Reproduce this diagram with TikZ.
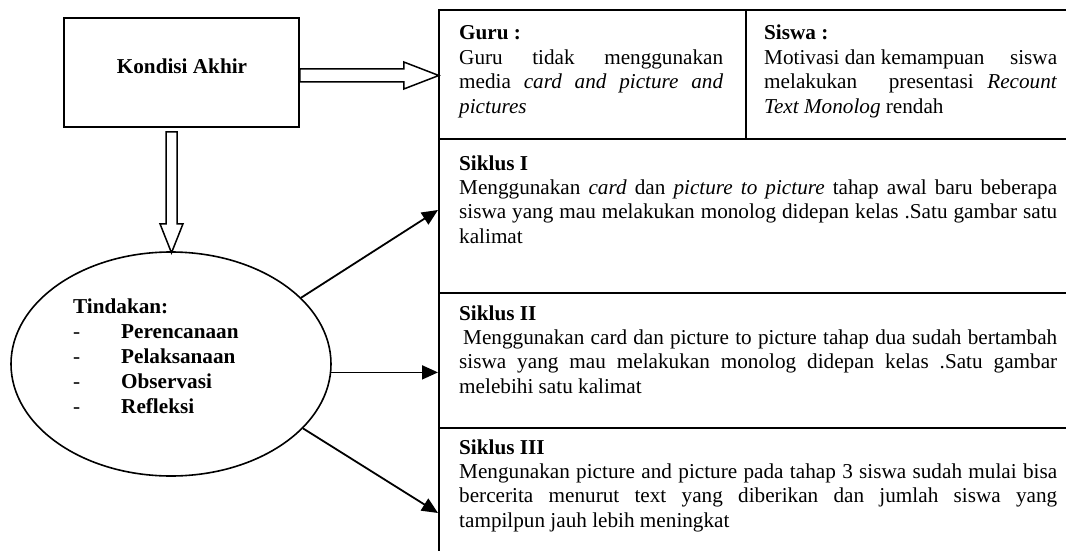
\documentclass[tikz,border=0pt]{standalone}
\usepackage{fontspec}
\setmainfont{Liberation Serif}
\usetikzlibrary{shapes.geometric,arrows.meta,calc}
\newcommand{\bodyfnt}{\fontsize{21.2pt}{24.4pt}\selectfont}
\newcommand{\leftfnt}{\fontsize{21.2pt}{25pt}\selectfont\bfseries}
\newcommand{\jline}[2]{\makebox[#1][s]{#2}}
\begin{document}
\begin{tikzpicture}[x=1pt,y=-1pt,
  cell/.style={draw, line width=1.8pt, rectangle, anchor=north west, inner sep=0pt},
  txt/.style={anchor=base west, inner sep=0pt},
  conn/.style={line width=1.8pt, -{Triangle[length=16pt,width=14pt]}},
  block/.style={draw, line width=1.5pt, fill=white, line join=miter},
  kbox/.style={draw, line width=1.6pt, rectangle, minimum width=235pt, minimum height=109pt, inner sep=0pt},
  ellnode/.style={draw, line width=1.6pt, ellipse, minimum width=320pt, minimum height=224pt, inner sep=0pt}]
\useasboundingbox (0,0) rectangle (1066,551);

% table cells
\node[cell, minimum width=307pt, minimum height=129pt] (guru) at (438,9) {};
\node[cell, minimum width=340pt, minimum height=129pt] (siswa) at (745,9) {};
\node[cell, minimum width=650pt, minimum height=154pt] (s1) at (438,138) {};
\node[cell, minimum width=650pt, minimum height=135pt] (s2) at (438,292) {};
\node[cell, minimum width=650pt, minimum height=150pt] (s3) at (438,427) {};

% table texts
\node[txt] (gurut) at (459,40) {\parbox[t]{264pt}{\bodyfnt
  \textbf{Guru :}\\
  \jline{264pt}{Guru tidak menggunakan}\\
  \jline{264pt}{media \textit{card and picture and}}\\
  \textit{pictures}}};
\node[txt] (siswat) at (764,40) {\parbox[t]{293pt}{\bodyfnt
  \textbf{Siswa :}\\
  \jline{293pt}{Motivasi dan kemampuan\hfill\ siswa}\\
  \jline{293pt}{melakukan\hspace{18pt} presentasi \textit{Recount}}\\
  \textit{Text Monolog} rendah}};
\node[txt] (s1t) at (459,170) {\parbox[t]{598pt}{\bodyfnt
  \textbf{Siklus I}\\
  \jline{598pt}{Menggunakan \textit{card} dan \textit{picture to picture} tahap awal baru beberapa}\\
  \jline{598pt}{siswa yang mau melakukan monolog didepan kelas .Satu gambar satu}\\
  kalimat}};
\node[txt] (s2t) at (459,320) {\parbox[t]{598pt}{\bodyfnt
  \textbf{Siklus II}\\
  \jline{598pt}{\hspace*{4pt}Menggunakan card dan picture to picture tahap dua sudah bertambah}\\
  \jline{598pt}{siswa yang mau melakukan monolog didepan kelas .Satu gambar}\\
  melebihi satu kalimat}};
\node[txt] (s3t) at (459,454) {\parbox[t]{598pt}{\bodyfnt
  \textbf{Siklus III}\\
  \jline{598pt}{Mengunakan picture and picture pada tahap 3 siswa sudah mulai bisa}\\
  \jline{598pt}{bercerita menurut text yang diberikan dan jumlah siswa yang}\\
  tampilpun jauh lebih meningkat}};

% left side
\node[kbox] (kondisi) at (181.5,72.5) {};
\node[anchor=base, inner sep=0pt, font=\leftfnt] (kondisit) at (182,74) {Kondisi Akhir};
\node[ellnode] (ell) at (171,364) {};
\node[txt] (tindt) at (73,313) {\parbox[t]{220pt}{\leftfnt
  Tindakan:\\
  \makebox[48pt][l]{\mdseries -}Perencanaan\\
  \makebox[48pt][l]{\mdseries -}Pelaksanaan\\
  \makebox[48pt][l]{\mdseries -}Observasi\\
  \makebox[48pt][l]{\mdseries -}Refleksi}};

% block arrows
\draw[block] ($(kondisi.east)+(0,-3.5)$) -- ++(104,0) -- ++(0,-7) -- ++(35,13.5)
  -- ++(-35,13.5) -- ++(0,-7) -- ++(-104,0) -- cycle;
\draw[block] ($(kondisi.south)+(-15.5,4)$) -- ++(11,0) -- ++(0,92) -- ++(6,0)
  -- ++(-11.5,29) -- ++(-11.5,-29) -- ++(6,0) -- cycle;

% connectors
\draw[conn] (ell.27) -- ($(s1.north west)+(0,72)$);
\draw[conn] (ell.-3) -- (ell.-3 -| s2.west);
\draw[conn] (ell.-26) -- ($(s3.north west)+(0,86)$);
\end{tikzpicture}
\end{document}
